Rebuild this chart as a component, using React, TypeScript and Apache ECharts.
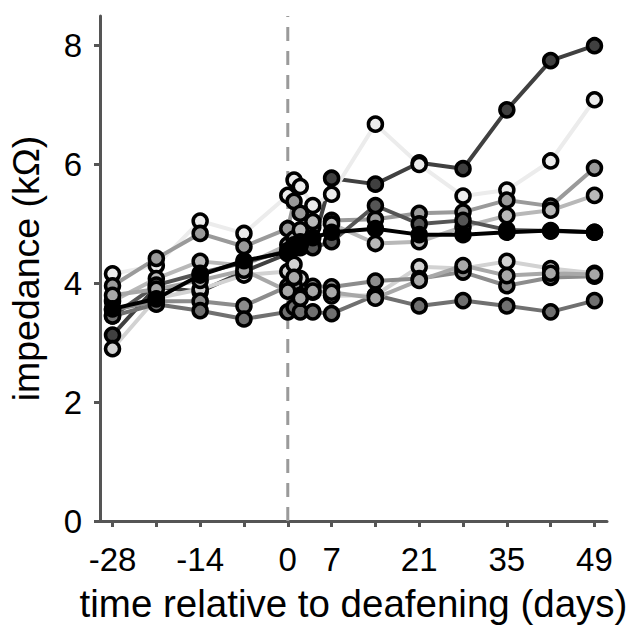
import React, { useEffect, useRef } from "react";
import * as echarts from "echarts";

// time points (days relative to deafening)
const days = [-28, -21, -14, -7, 0, 1, 2, 4, 7, 14, 21, 28, 35, 42, 49];

// individual electrode impedances (kΩ)
const elecA = [3.13, 3.94, 3.86, 4.2, 4.5, 4.62, 4.6, 4.64, 5.77, 5.67, 6.03, 5.93, 6.92, 7.75, 8.0];
const elecB = [4.16, 4.3, 5.05, 4.84, 5.48, 5.74, 5.63, 5.31, 5.5, 6.68, 6.0, 5.47, 5.57, 6.06, 7.09];
const elecC = [3.96, 4.42, 4.84, 4.62, 4.92, 5.38, 5.18, 4.95, 5.06, 5.08, 5.18, 5.2, 5.4, 5.3, 5.94];
const elecD = [3.7, 4.08, 4.37, 4.3, 4.65, 4.75, 4.9, 5.04, 5.0, 4.67, 4.7, 4.95, 5.14, 5.23, 5.48];
const elecE = [3.45, 3.97, 4.17, 4.35, 4.55, 4.65, 4.7, 4.6, 4.7, 5.31, 5.0, 5.06, 4.9, 4.88, 4.86];
const elecF = [2.9, 3.75, 3.9, 4.14, 4.2, 4.32, 4.08, 3.85, 3.79, 3.8, 4.28, 4.25, 4.37, 4.25, 4.17];
const elecG = [3.55, 3.7, 3.7, 3.62, 3.95, 3.97, 3.8, 3.95, 3.94, 4.04, 4.08, 4.19, 3.96, 4.1, 4.12];
const elecH = [3.45, 3.65, 3.54, 3.4, 3.52, 3.6, 3.52, 3.52, 3.49, 3.8, 3.62, 3.71, 3.62, 3.52, 3.71];
const elecI = [3.8, 3.9, 4.05, 4.22, 3.87, 4.1, 3.75, 3.87, 3.85, 3.75, 4.05, 4.3, 4.13, 4.17, 4.15];
const meanImpedance = [3.57, 3.74, 4.14, 4.38, 4.53, 4.59, 4.65, 4.77, 4.86, 4.92, 4.82, 4.82, 4.86, 4.89, 4.86];

// axis ticks / labels
const xTicks = [-28, -21, -14, -7, 0, 7, 14, 21, 28, 35, 42, 49];
const xTickLabels = [-28, -14, 0, 7, 21, 35, 49];
const yTickLabels = [0, 2, 4, 6, 8];

const electrodes = [
  { values: elecA, shade: "#404040" },
  { values: elecB, shade: "#ececec" },
  { values: elecC, shade: "#9a9a9a" },
  { values: elecD, shade: "#b8b8b8" },
  { values: elecE, shade: "#555555" },
  { values: elecF, shade: "#d2d2d2" },
  { values: elecG, shade: "#8c8c8c" },
  { values: elecH, shade: "#707070" },
  { values: elecI, shade: "#a8a8a8" },
];

const FONT = "Liberation Sans, Arial, Helvetica, sans-serif";

export default function App() {
  const ref = useRef<HTMLDivElement>(null);
  useEffect(() => {
    document.body.style.margin = "0";
    if (!ref.current) return;
    const chart = echarts.init(ref.current, undefined, { renderer: "svg" });
    const mk = (vals: number[], shade: string, name: string, z: number) => ({
      name,
      type: "line",
      data: days.map((d, i) => [d, vals[i]]),
      symbol: "circle",
      symbolSize: 14,
      z,
      itemStyle: { color: shade, borderColor: "#000", borderWidth: 3.5 },
      lineStyle: { color: shade, width: 4 },
      emphasis: { disabled: true },
    });
    const series: any[] = [
      {
        type: "line",
        data: [
          [0, 0],
          [0, 8.5],
        ],
        symbol: "none",
        lineStyle: { color: "#9a9a9a", width: 3, type: [14, 10] },
        z: 1,
        silent: true,
      },
      ...electrodes.map((e, i) => mk(e.values, e.shade, "e" + i, 2)),
      mk(meanImpedance, "#000000", "mean", 3),
    ];
    chart.setOption({
      animation: false,
      grid: { left: 100, right: 20, top: 16, bottom: 109, outerBoundsMode: "none" },
      xAxis: {
        type: "value",
        min: -30,
        max: 51,
        name: "time relative to deafening (days)",
        nameLocation: "middle",
        nameGap: 63,
        nameTextStyle: { fontSize: 38.5, color: "#000", fontFamily: FONT },
        axisLine: { show: true, onZero: false, lineStyle: { color: "#555", width: 3 } },
        axisTick: { show: true, customValues: xTicks, length: 6, lineStyle: { color: "#555", width: 3 } },
        axisLabel: { customValues: xTickLabels, fontSize: 33, color: "#000", margin: 22, fontFamily: FONT },
        splitLine: { show: false },
      },
      yAxis: {
        type: "value",
        min: 0,
        max: 8.5,
        name: "impedance (kΩ)",
        nameLocation: "middle",
        nameGap: 55,
        nameTextStyle: { fontSize: 37.5, color: "#000", fontFamily: FONT },
        axisLine: { show: true, onZero: false, lineStyle: { color: "#555", width: 3 } },
        axisTick: { show: true, customValues: yTickLabels, length: 6, lineStyle: { color: "#555", width: 3 } },
        axisLabel: { customValues: yTickLabels, fontSize: 33, color: "#000", margin: 18, fontFamily: FONT },
        splitLine: { show: false },
      },
      series,
    });
    return () => chart.dispose();
  }, []);
  return <div ref={ref} style={{ width: 627, height: 630 }} />;
}
